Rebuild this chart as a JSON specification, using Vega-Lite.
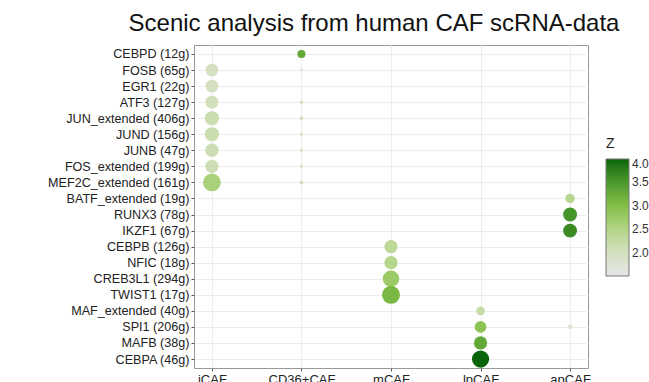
{
  "$schema": "https://vega.github.io/schema/vega-lite/v6.json",
  "autosize": {"type": "none"},
  "width": 394,
  "height": 323,
  "padding": {"left": 194, "top": 45, "right": 61, "bottom": 14},
  "background": "white",
  "title": {
    "text": "Scenic analysis from human CAF scRNA-data",
    "anchor": "middle",
    "frame": "group",
    "dx": -17,
    "offset": 9,
    "font": "Liberation Sans",
    "fontSize": 24,
    "fontWeight": "normal",
    "color": "#111111"
  },
  "config": {
    "view": {"stroke": "#999999", "strokeWidth": 1},
    "axis": {
      "labelFont": "Liberation Sans",
      "gridColor": "#ececec",
      "gridWidth": 1,
      "domain": false,
      "tickColor": "#555555",
      "tickSize": 3,
      "labelPadding": 2,
      "title": null
    }
  },
  "data": {
    "values": [
      {"tf": "CEBPD (12g)", "cls": "CD36+CAF", "z": 3.3, "pct": 19},
      {"tf": "FOSB (65g)", "cls": "iCAF", "z": 2.0, "pct": 46},
      {"tf": "FOSB (65g)", "cls": "CD36+CAF", "z": 1.8, "pct": 2.5},
      {"tf": "EGR1 (22g)", "cls": "iCAF", "z": 2.0, "pct": 47},
      {"tf": "ATF3 (127g)", "cls": "iCAF", "z": 2.05, "pct": 48},
      {"tf": "ATF3 (127g)", "cls": "CD36+CAF", "z": 2.0, "pct": 3.6},
      {"tf": "JUN_extended (406g)", "cls": "iCAF", "z": 2.15, "pct": 57},
      {"tf": "JUN_extended (406g)", "cls": "CD36+CAF", "z": 2.05, "pct": 4},
      {"tf": "JUND (156g)", "cls": "iCAF", "z": 2.15, "pct": 57},
      {"tf": "JUND (156g)", "cls": "CD36+CAF", "z": 1.95, "pct": 3},
      {"tf": "JUNB (47g)", "cls": "iCAF", "z": 2.1, "pct": 52},
      {"tf": "JUNB (47g)", "cls": "CD36+CAF", "z": 1.95, "pct": 3},
      {"tf": "FOS_extended (199g)", "cls": "iCAF", "z": 2.1, "pct": 50},
      {"tf": "FOS_extended (199g)", "cls": "CD36+CAF", "z": 1.95, "pct": 3},
      {"tf": "MEF2C_extended (161g)", "cls": "iCAF", "z": 2.6, "pct": 90},
      {"tf": "MEF2C_extended (161g)", "cls": "CD36+CAF", "z": 2.05, "pct": 4},
      {"tf": "BATF_extended (19g)", "cls": "apCAF", "z": 2.4, "pct": 26},
      {"tf": "RUNX3 (78g)", "cls": "apCAF", "z": 3.55, "pct": 55},
      {"tf": "IKZF1 (67g)", "cls": "apCAF", "z": 3.65, "pct": 55},
      {"tf": "CEBPB (126g)", "cls": "mCAF", "z": 2.35, "pct": 50},
      {"tf": "NFIC (18g)", "cls": "mCAF", "z": 2.45, "pct": 50},
      {"tf": "CREB3L1 (294g)", "cls": "mCAF", "z": 2.75, "pct": 78},
      {"tf": "TWIST1 (17g)", "cls": "mCAF", "z": 3.1, "pct": 92},
      {"tf": "MAF_extended (40g)", "cls": "lpCAF", "z": 2.2, "pct": 22},
      {"tf": "SPI1 (206g)", "cls": "lpCAF", "z": 2.9, "pct": 40},
      {"tf": "SPI1 (206g)", "cls": "apCAF", "z": 1.7, "pct": 7},
      {"tf": "MAFB (38g)", "cls": "lpCAF", "z": 3.3, "pct": 50},
      {"tf": "CEBPA (46g)", "cls": "lpCAF", "z": 4.0, "pct": 85}
    ]
  },
  "mark": {"type": "circle", "opacity": 1},
  "encoding": {
    "x": {
      "field": "cls",
      "type": "nominal",
      "sort": ["iCAF", "CD36+CAF", "mCAF", "lpCAF", "apCAF"],
      "scale": {"type": "point", "padding": 0.2},
      "axis": {"labelAngle": 0, "labelFontSize": 13, "labelColor": "#222222", "grid": true}
    },
    "y": {
      "field": "tf",
      "type": "nominal",
      "sort": ["CEBPD (12g)", "FOSB (65g)", "EGR1 (22g)", "ATF3 (127g)", "JUN_extended (406g)", "JUND (156g)", "JUNB (47g)", "FOS_extended (199g)", "MEF2C_extended (161g)", "BATF_extended (19g)", "RUNX3 (78g)", "IKZF1 (67g)", "CEBPB (126g)", "NFIC (18g)", "CREB3L1 (294g)", "TWIST1 (17g)", "MAF_extended (40g)", "SPI1 (206g)", "MAFB (38g)", "CEBPA (46g)"],
      "scale": {"type": "point", "padding": 0.56},
      "axis": {"labelFontSize": 12.6, "labelColor": "#222222", "grid": true}
    },
    "size": {
      "field": "pct",
      "type": "quantitative",
      "scale": {"domain": [0, 100], "range": [0, 350], "zero": true},
      "legend": null
    },
    "color": {
      "field": "z",
      "type": "quantitative",
      "title": "Z",
      "scale": {
        "domain": [1.5, 2.0, 2.5, 3.0, 3.5, 4.0],
        "range": ["#e6e6e6", "#d4e0c0", "#b2d585", "#84bf47", "#4c9a2e", "#0a650a"]
      },
      "legend": {
        "orient": "none",
        "legendX": 412,
        "legendY": 92,
        "direction": "vertical",
        "gradientLength": 117,
        "gradientThickness": 23,
        "gradientStrokeColor": "#777777",
        "gradientStrokeWidth": 1,
        "values": [2.0, 2.5, 3.0, 3.5, 4.0],
        "format": ".1f",
        "labelFont": "Liberation Sans",
        "labelFontSize": 12,
        "labelColor": "#333333",
        "labelOffset": 3,
        "titleFont": "Liberation Sans",
        "titleFontSize": 14,
        "titleFontWeight": "normal",
        "titleColor": "#222222",
        "titlePadding": 8
      }
    }
  }
}
